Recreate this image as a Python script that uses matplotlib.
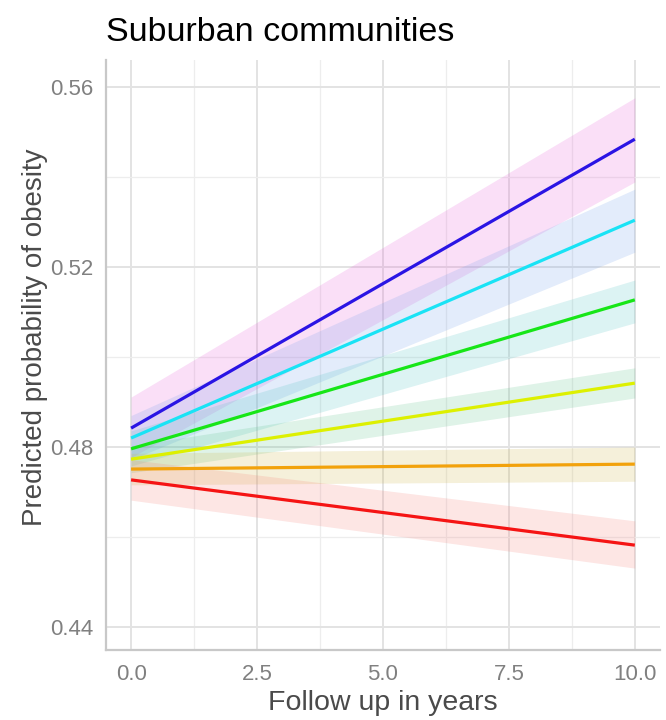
import numpy as np
import matplotlib
matplotlib.use('Agg')
import matplotlib.pyplot as plt
from matplotlib.ticker import MultipleLocator, FuncFormatter

plt.rcParams['font.family'] = ['Liberation Sans', 'DejaVu Sans']

# follow up endpoints (years)
years = [0.0, 10.0]

# predicted probability per group, at year 0 and year 10
pred_1 = [0.4842, 0.5484]
pred_2 = [0.4820, 0.5304]
pred_3 = [0.4796, 0.5127]
pred_4 = [0.4773, 0.4942]
pred_5 = [0.4751, 0.4762]
pred_6 = [0.4727, 0.4582]

# confidence band limits
low_1 = [0.4777, 0.5389]
high_1 = [0.4911, 0.5576]
low_2 = [0.4772, 0.5233]
high_2 = [0.4870, 0.5373]
low_3 = [0.4758, 0.5076]
high_3 = [0.4836, 0.5171]
low_4 = [0.4743, 0.4909]
high_4 = [0.4803, 0.4976]
low_5 = [0.4716, 0.4724]
high_5 = [0.4786, 0.4800]
low_6 = [0.4682, 0.4531]
high_6 = [0.4772, 0.4636]

line_cols = ['#2A14E4', '#19E3F5', '#17E617', '#DDF000', '#F2A20C', '#F51414']
fill_cols = ['#E65FD8', '#73A0EB', '#50C3C3', '#5FC38C', '#CDB446', '#F5827A']

preds = [pred_1, pred_2, pred_3, pred_4, pred_5, pred_6]
lows = [low_1, low_2, low_3, low_4, low_5, low_6]
highs = [high_1, high_2, high_3, high_4, high_5, high_6]

fig = plt.figure(figsize=(6.66, 7.2), dpi=100)
ax = fig.add_axes([0.159, 0.0972, 0.832, 0.8195])

for lo, hi, fc in zip(lows, highs, fill_cols):
    ax.fill_between(years, lo, hi, color=fc, alpha=0.2, linewidth=0, zorder=2)
for p, lc in zip(preds, line_cols):
    ax.plot(years, p, color=lc, linewidth=2.3, solid_capstyle='butt', zorder=3)

ax.set_xlim(-0.5, 10.5)
ax.set_ylim(0.4349, 0.566)
ax.xaxis.set_major_locator(MultipleLocator(2.5))
ax.xaxis.set_minor_locator(MultipleLocator(1.25))
ax.yaxis.set_major_locator(MultipleLocator(0.04))
ax.yaxis.set_minor_locator(MultipleLocator(0.02))
ax.xaxis.set_major_formatter(FuncFormatter(lambda v, _: f'{v:.1f}'))
ax.yaxis.set_major_formatter(FuncFormatter(lambda v, _: f'{v:.2f}'))

ax.grid(which='major', color='#E3E3E3', linewidth=1.4, zorder=0)
ax.grid(which='minor', color='#EDEDED', linewidth=0.9, zorder=0)
ax.set_axisbelow(True)

for s in ['top', 'right']:
    ax.spines[s].set_visible(False)
for s in ['left', 'bottom']:
    ax.spines[s].set_color('#C8C8C8')
    ax.spines[s].set_linewidth(1.6)

ax.tick_params(which='both', length=0, labelsize=16, labelcolor='#808080')
ax.tick_params(axis='y', pad=9)
ax.tick_params(axis='x', pad=10)
ax.set_xlabel('Follow up in years', fontsize=20.5, color='#4A4A4A', labelpad=4)
ax.set_ylabel('Predicted probability of obesity', fontsize=20, color='#4A4A4A')
ax.yaxis.set_label_coords(-0.105, 0.53)
ax.set_title('Suburban communities', fontsize=24.5, loc='left', pad=14, color='black')

fig.savefig('out.png', dpi=100, facecolor='white')
